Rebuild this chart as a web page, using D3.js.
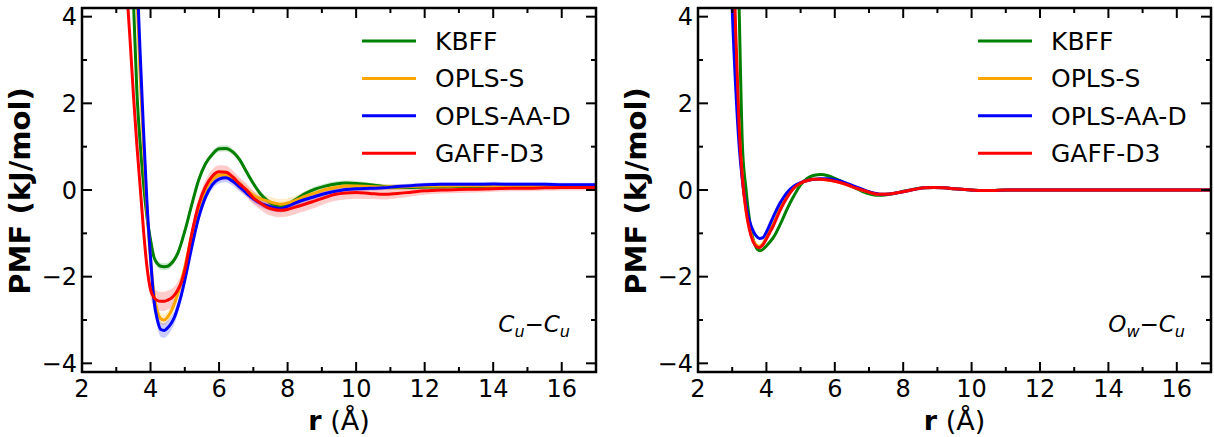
<!DOCTYPE html>
<html>
<head>
<meta charset="utf-8">
<script src="https://cdn.jsdelivr.net/npm/d3@7"></script>
<style>
  html, body { margin: 0; padding: 0; background: #fff; }
  svg { display: block; font-family: "DejaVu Sans", sans-serif; }
</style>
</head>
<body>
<svg id="chart" width="1214" height="437"></svg>
<script>
// ---- Cu–Cu potential of mean force (left panel) ----
const rCu = [3.2, 3.3, 3.4, 3.5, 3.6, 3.7, 3.8, 3.9, 4.0, 4.1, 4.2, 4.3, 4.4, 4.5, 4.6, 4.7, 4.8, 4.9, 5.0,
  5.2, 5.4, 5.6, 5.8, 6.0, 6.2, 6.4, 6.6, 6.8, 7.0, 7.2, 7.4, 7.6, 7.8, 8.0, 8.2,
  8.5, 8.8, 9.1, 9.4, 9.7, 10.0, 10.4, 10.8, 11.2, 11.6, 12.0,
  12.5, 13.0, 13.5, 14.0, 14.5, 15.0, 15.5, 16.0, 16.5, 17.0];

const kbffCu = [12, 9, 6.5, 4.4, 2.3, 1.05, 0.1, -0.65, -1.15, -1.55, -1.7, -1.76, -1.77, -1.76, -1.7, -1.6, -1.45, -1.22, -0.95,
  -0.35, 0.22, 0.6, 0.82, 0.95, 0.96, 0.88, 0.7, 0.42, 0.15, -0.08, -0.24, -0.34, -0.38, -0.33, -0.24,
  -0.09, 0.02, 0.09, 0.14, 0.16, 0.15, 0.12, 0.08, 0.06, 0.06, 0.07,
  0.07, 0.08, 0.08, 0.09, 0.09, 0.09, 0.09, 0.09, 0.08, 0.08];
const oplsSCu = [18, 14, 10.5, 7.5, 4.6, 2.6, 0.95, -0.5, -1.6, -2.4, -2.8, -2.97, -3.0, -2.93, -2.8, -2.62, -2.38, -2.1, -1.78,
  -1.05, -0.42, 0.0, 0.24, 0.34, 0.35, 0.27, 0.14, 0.0, -0.12, -0.2, -0.25, -0.3, -0.33, -0.3, -0.25,
  -0.15, -0.07, 0.01, 0.06, 0.09, 0.09, 0.08, 0.07, 0.07, 0.08, 0.09,
  0.09, 0.1, 0.1, 0.1, 0.1, 0.1, 0.1, 0.1, 0.1, 0.1];
const oplsAADCu = [22, 16, 12.5, 9, 5.3, 3.1, 1.3, -0.35, -1.55, -2.55, -3.0, -3.22, -3.24, -3.18, -3.08, -2.93, -2.7, -2.42, -2.08,
  -1.33, -0.65, -0.17, 0.12, 0.25, 0.28, 0.2, 0.07, -0.07, -0.2, -0.3, -0.36, -0.41, -0.43, -0.38, -0.31,
  -0.22, -0.15, -0.08, -0.03, 0.01, 0.03, 0.04, 0.05, 0.08, 0.1, 0.12,
  0.13, 0.13, 0.13, 0.14, 0.13, 0.13, 0.13, 0.12, 0.12, 0.12];
const gaffCu = [6.0, 4.7, 3.5, 2.2, 1.05, 0.05, -0.98, -1.8, -2.3, -2.48, -2.55, -2.57, -2.57, -2.54, -2.5, -2.42, -2.3, -2.13, -1.85,
  -1.02, -0.35, 0.07, 0.32, 0.42, 0.41, 0.3, 0.14, 0.0, -0.18, -0.3, -0.4, -0.45, -0.47, -0.45, -0.4,
  -0.33, -0.25, -0.17, -0.1, -0.07, -0.06, -0.08, -0.1, -0.08, -0.05, -0.02,
  0.0, 0.01, 0.02, 0.03, 0.04, 0.04, 0.05, 0.06, 0.06, 0.06];

// standard error of each Cu–Cu profile (drawn as shaded bands)
const kbffCuErr = [0.05, 0.05, 0.05, 0.05, 0.05, 0.05, 0.05, 0.05, 0.05, 0.07, 0.08, 0.08, 0.08, 0.08, 0.08, 0.07, 0.06, 0.06, 0.06,
  0.06, 0.06, 0.06, 0.07, 0.07, 0.07, 0.07, 0.06, 0.06, 0.06, 0.06, 0.06, 0.06, 0.06, 0.06, 0.06,
  0.06, 0.06, 0.06, 0.06, 0.06, 0.06, 0.05, 0.05, 0.05, 0.05, 0.05,
  0.04, 0.04, 0.04, 0.04, 0.04, 0.04, 0.04, 0.04, 0.04, 0.04];
const oplsSCuErr = [0.05, 0.05, 0.05, 0.05, 0.05, 0.05, 0.05, 0.05, 0.1, 0.13, 0.13, 0.13, 0.13, 0.13, 0.13, 0.12, 0.11, 0.1, 0.1,
  0.1, 0.1, 0.1, 0.1, 0.1, 0.1, 0.1, 0.1, 0.1, 0.1, 0.11, 0.12, 0.12, 0.12, 0.11, 0.11,
  0.11, 0.11, 0.11, 0.11, 0.1, 0.1, 0.08, 0.07, 0.07, 0.06, 0.06,
  0.05, 0.05, 0.05, 0.05, 0.05, 0.05, 0.05, 0.05, 0.05, 0.05];
const oplsAADCuErr = [0.05, 0.05, 0.05, 0.05, 0.05, 0.05, 0.05, 0.06, 0.1, 0.14, 0.16, 0.17, 0.17, 0.17, 0.16, 0.15, 0.13, 0.12, 0.11,
  0.1, 0.1, 0.1, 0.1, 0.1, 0.1, 0.1, 0.1, 0.09, 0.09, 0.09, 0.09, 0.09, 0.09, 0.08, 0.08,
  0.08, 0.07, 0.07, 0.07, 0.07, 0.06, 0.06, 0.05, 0.05, 0.05, 0.05,
  0.05, 0.05, 0.05, 0.05, 0.05, 0.05, 0.05, 0.05, 0.05, 0.05];
const gaffCuErr = [0.08, 0.08, 0.08, 0.08, 0.08, 0.1, 0.12, 0.15, 0.19, 0.21, 0.22, 0.22, 0.22, 0.22, 0.21, 0.2, 0.19, 0.18, 0.17,
  0.16, 0.15, 0.15, 0.15, 0.15, 0.15, 0.15, 0.15, 0.15, 0.15, 0.15, 0.16, 0.16, 0.16, 0.16, 0.16,
  0.16, 0.16, 0.15, 0.15, 0.15, 0.14, 0.13, 0.12, 0.11, 0.1, 0.09,
  0.08, 0.08, 0.08, 0.07, 0.07, 0.07, 0.07, 0.07, 0.07, 0.07];

// ---- Ow–Cu potential of mean force (right panel) ----
const rOw = [2.9, 3.0, 3.1, 3.2, 3.3, 3.4, 3.5, 3.6, 3.7, 3.8, 3.9, 4.0, 4.1, 4.2,
  4.4, 4.6, 4.8, 5.0, 5.2, 5.4, 5.6, 5.8, 6.0, 6.2, 6.4, 6.6, 6.8, 7.0, 7.2, 7.4, 7.6, 7.8, 8.0,
  8.3, 8.6, 8.9, 9.2, 9.5, 9.8, 10.2, 10.6, 11.0, 12.0, 13.0, 14.0, 15.0, 16.0, 17.0];

const kbffOw = [18, 12, 8, 4.3, 1.0, 0.05, -0.65, -1.1, -1.33, -1.4, -1.37, -1.29, -1.2, -1.1,
  -0.8, -0.45, -0.14, 0.12, 0.27, 0.34, 0.36, 0.33, 0.27, 0.2, 0.12, 0.04, -0.03, -0.09, -0.12, -0.12, -0.1, -0.07, -0.03,
  0.02, 0.05, 0.06, 0.05, 0.03, 0.01, -0.01, -0.01, 0.0, 0.0, 0.0, 0.0, 0.0, 0.0, 0.0];
const oplsSOw = [8.5, 5.8, 3.3, 1.4, 0.25, -0.45, -0.88, -1.14, -1.27, -1.3, -1.24, -1.1, -0.94, -0.78,
  -0.43, -0.15, 0.05, 0.16, 0.22, 0.25, 0.25, 0.23, 0.2, 0.16, 0.11, 0.05, 0.0, -0.05, -0.09, -0.1, -0.09, -0.07, -0.04,
  0.01, 0.05, 0.06, 0.05, 0.03, 0.01, -0.01, -0.01, 0.0, 0.0, 0.0, 0.0, 0.0, 0.0, 0.0];
const oplsAADOw = [6.8, 4.2, 2.4, 1.05, 0.2, -0.35, -0.7, -0.92, -1.06, -1.12, -1.1, -0.97, -0.8, -0.62,
  -0.3, -0.06, 0.09, 0.17, 0.22, 0.25, 0.26, 0.26, 0.24, 0.2, 0.14, 0.08, 0.02, -0.04, -0.08, -0.1, -0.09, -0.07, -0.04,
  0.01, 0.05, 0.06, 0.05, 0.03, 0.01, -0.01, -0.01, 0.0, 0.0, 0.0, 0.0, 0.0, 0.0, 0.0];
const gaffOw = [9.5, 6.5, 3.7, 1.5, 0.25, -0.45, -0.9, -1.17, -1.3, -1.33, -1.26, -1.13, -0.98, -0.83,
  -0.47, -0.18, 0.04, 0.16, 0.22, 0.25, 0.25, 0.23, 0.2, 0.16, 0.11, 0.05, 0.0, -0.05, -0.09, -0.1, -0.09, -0.07, -0.04,
  0.01, 0.05, 0.06, 0.05, 0.03, 0.01, -0.01, -0.01, 0.0, 0.0, 0.0, 0.0, 0.0, 0.0, 0.0];

// ---- labels, colours, ticks ----
const forceFields = ["KBFF", "OPLS-S", "OPLS-AA-D", "GAFF-D3"];
const ffColors = ["#008000", "#ffa500", "#0000ff", "#ff0000"];
const xMajorTicks = [2, 4, 6, 8, 10, 12, 14, 16];
const xMinorTicks = [3, 5, 7, 9, 11, 13, 15];
const yMajorTicks = [-4, -2, 0, 2, 4];
const yMinorTicks = [-3, -1, 1, 3];
const xDomain = [2, 17];
const yDomain = [-4.2, 4.2];

const svg = d3.select("#chart");
const fmtY = v => (v < 0 ? "\u2212" + Math.abs(v) : String(v));

function drawPanel(opt) {
  const x = d3.scaleLinear().domain(xDomain).range([opt.left, opt.right]);
  const y = d3.scaleLinear().domain(yDomain).range([372, 8]);
  const g = svg.append("g");

  const clipId = "clip-" + opt.id;
  svg.append("defs").append("clipPath").attr("id", clipId)
    .append("rect")
    .attr("x", x(xDomain[0])).attr("y", y(yDomain[1]))
    .attr("width", x(xDomain[1]) - x(xDomain[0]))
    .attr("height", y(yDomain[0]) - y(yDomain[1]));

  const plot = g.append("g").attr("clip-path", `url(#${clipId})`);

  // shaded error bands
  opt.series.forEach(s => {
    if (!s.err) return;
    const pts = opt.r.map((rv, i) => ({ r: rv, v: s.values[i], e: s.err[i] }));
    const area = d3.area()
      .x(d => x(d.r))
      .y0(d => y(d.v - d.e))
      .y1(d => y(d.v + d.e))
      .curve(d3.curveMonotoneX);
    plot.append("path").datum(pts)
      .attr("d", area)
      .attr("fill", s.color)
      .attr("fill-opacity", 0.2);
  });

  // PMF curves
  opt.series.forEach(s => {
    const pts = opt.r.map((rv, i) => ({ r: rv, v: s.values[i] }));
    const line = d3.line().x(d => x(d.r)).y(d => y(d.v)).curve(d3.curveMonotoneX);
    plot.append("path").datum(pts)
      .attr("d", line)
      .attr("fill", "none")
      .attr("stroke", s.color)
      .attr("stroke-width", 3)
      .attr("stroke-linejoin", "round");
  });

  // inward ticks on all four sides
  const ticks = g.append("g").attr("stroke", "#000").attr("stroke-width", 2);
  const tickSet = (vals, len) => {
    vals.forEach(v => {
      ticks.append("line").attr("x1", x(v)).attr("x2", x(v)).attr("y1", y(yDomain[0])).attr("y2", y(yDomain[0]) - len);
      ticks.append("line").attr("x1", x(v)).attr("x2", x(v)).attr("y1", y(yDomain[1])).attr("y2", y(yDomain[1]) + len);
    });
  };
  const yTickSet = (vals, len) => {
    vals.forEach(v => {
      ticks.append("line").attr("y1", y(v)).attr("y2", y(v)).attr("x1", x(xDomain[0])).attr("x2", x(xDomain[0]) + len);
      ticks.append("line").attr("y1", y(v)).attr("y2", y(v)).attr("x1", x(xDomain[1])).attr("x2", x(xDomain[1]) - len);
    });
  };
  tickSet(xMajorTicks, 10);
  tickSet(xMinorTicks, 5);
  yTickSet(yMajorTicks, 10);
  yTickSet(yMinorTicks, 5);

  // frame
  g.append("rect")
    .attr("x", x(xDomain[0])).attr("y", y(yDomain[1]))
    .attr("width", x(xDomain[1]) - x(xDomain[0]))
    .attr("height", y(yDomain[0]) - y(yDomain[1]))
    .attr("fill", "none").attr("stroke", "#000").attr("stroke-width", 2.5);

  // tick labels
  g.append("g").selectAll("text").data(xMajorTicks).join("text")
    .attr("x", d => x(d)).attr("y", 397)
    .attr("text-anchor", "middle").attr("font-size", 24)
    .text(d => d);
  g.append("g").selectAll("text").data(yMajorTicks).join("text")
    .attr("x", x(xDomain[0]) - 5).attr("y", d => y(d)).attr("dy", "0.36em")
    .attr("text-anchor", "end").attr("font-size", 24)
    .text(fmtY);

  // axis titles
  g.append("text")
    .attr("transform", `translate(${opt.left - 52},${(y(yDomain[0]) + y(yDomain[1])) / 2 + 1}) rotate(-90)`)
    .attr("text-anchor", "middle").attr("font-size", 29).attr("font-weight", "bold")
    .text("PMF (kJ/mol)");
  const xl = g.append("text")
    .attr("x", (opt.left + opt.right) / 2).attr("y", 430)
    .attr("text-anchor", "middle").attr("font-size", 27);
  xl.append("tspan").attr("font-weight", "bold").text("r");
  xl.append("tspan").text(" (\u00c5)");

  // legend
  const lg = g.append("g");
  opt.series.forEach((s, i) => {
    const ly = 41 + i * 37.4;
    lg.append("line")
      .attr("x1", opt.left + 280).attr("x2", opt.left + 334)
      .attr("y1", ly).attr("y2", ly)
      .attr("stroke", s.color).attr("stroke-width", 3);
    lg.append("text")
      .attr("x", opt.left + 353).attr("y", ly).attr("dy", "0.36em")
      .attr("font-size", 25).text(s.name);
  });

  // pair label
  const ann = g.append("text")
    .attr("x", opt.right - 26).attr("y", 332)
    .attr("text-anchor", "end").attr("font-size", 23);
  opt.pair.forEach(p => {
    ann.append("tspan").attr("font-style", "italic").text(p[0]);
    ann.append("tspan").attr("font-style", "italic").attr("font-size", 16).attr("dy", 5).text(p[1]);
    if (p[2]) ann.append("tspan").attr("dy", -5).text(p[2]);
  });
}

const cuSeries = [
  { name: forceFields[0], color: ffColors[0], values: kbffCu, err: kbffCuErr },
  { name: forceFields[1], color: ffColors[1], values: oplsSCu, err: oplsSCuErr },
  { name: forceFields[2], color: ffColors[2], values: oplsAADCu, err: oplsAADCuErr },
  { name: forceFields[3], color: ffColors[3], values: gaffCu, err: gaffCuErr }
];
const owSeries = [
  { name: forceFields[0], color: ffColors[0], values: kbffOw },
  { name: forceFields[1], color: ffColors[1], values: oplsSOw },
  { name: forceFields[2], color: ffColors[2], values: oplsAADOw },
  { name: forceFields[3], color: ffColors[3], values: gaffOw }
];

drawPanel({ id: "cu", left: 82, right: 596, r: rCu, series: cuSeries,
  pair: [["C", "u", "\u2212"], ["C", "u"]] });
drawPanel({ id: "ow", left: 698, right: 1211, r: rOw, series: owSeries,
  pair: [["O", "w", "\u2212"], ["C", "u"]] });
</script>
</body>
</html>
